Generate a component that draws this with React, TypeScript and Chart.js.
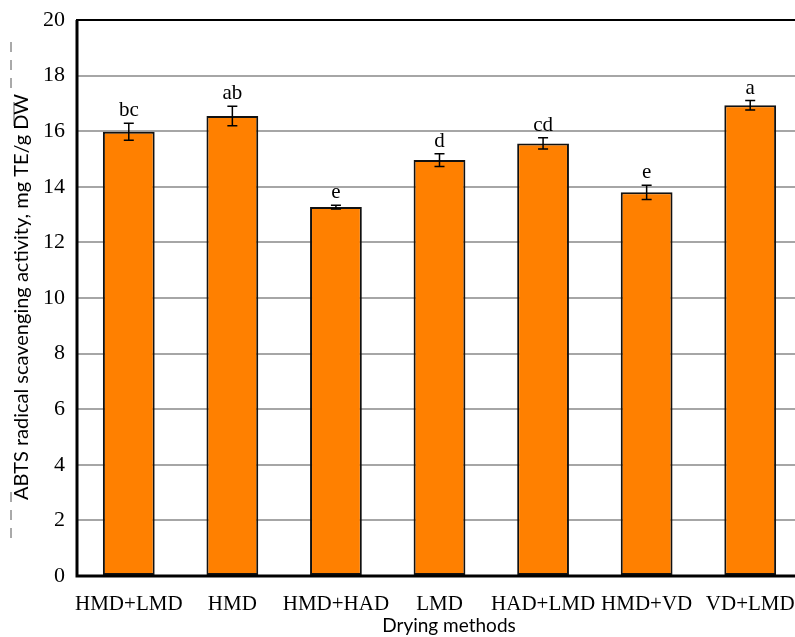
import React, { useEffect, useRef } from "react";
import { Chart, registerables } from "chart.js";

Chart.register(...registerables);

const categories = ["HMD+LMD", "HMD", "HMD+HAD", "LMD", "HAD+LMD", "HMD+VD", "VD+LMD"];
const values = [15.98, 16.55, 13.27, 14.96, 15.56, 13.8, 16.93];
const errors = [0.31, 0.35, 0.07, 0.23, 0.2, 0.26, 0.17];
const letters = ["bc", "ab", "e", "d", "cd", "e", "a"];
const yTicks = [0, 2, 4, 6, 8, 10, 12, 14, 16, 18, 20];
const xTitle = "Drying methods";
const yTitle = "ABTS radical scavenging activity, mg TE/g DW";

const SERIF = "'Liberation Serif', 'Times New Roman', serif";
const SANS = "Lato, 'Open Sans', sans-serif";

const overlayPlugin = {
  id: "overlay",
  afterDatasetsDraw(chart: any) {
    const ctx = chart.ctx;
    const y = chart.scales.y;
    const meta = chart.getDatasetMeta(0);
    ctx.save();
    ctx.strokeStyle = "#000";
    ctx.lineWidth = 1.5;
    meta.data.forEach((bar: any, i: number) => {
      const x = bar.x;
      const yTop = y.getPixelForValue(values[i] + errors[i]);
      const yBot = y.getPixelForValue(values[i] - errors[i]);
      ctx.beginPath();
      ctx.moveTo(x, yTop);
      ctx.lineTo(x, yBot);
      ctx.moveTo(x - 5, yTop);
      ctx.lineTo(x + 5, yTop);
      ctx.moveTo(x - 5, yBot);
      ctx.lineTo(x + 5, yBot);
      ctx.stroke();
      ctx.fillStyle = "#000";
      ctx.font = `21px ${SERIF}`;
      ctx.textAlign = "center";
      ctx.textBaseline = "alphabetic";
      ctx.fillText(letters[i], x, yTop - 7);
    });
    const a = chart.chartArea;
    ctx.strokeStyle = "#000";
    ctx.lineWidth = 2;
    ctx.strokeRect(a.left, a.top, a.right - a.left, a.bottom - a.top);
    ctx.lineWidth = 3;
    ctx.beginPath();
    ctx.moveTo(a.left, a.top);
    ctx.lineTo(a.left, a.bottom);
    ctx.lineTo(a.right, a.bottom);
    ctx.stroke();
    // dashed artifacts beside y title
    ctx.strokeStyle = "#555";
    ctx.lineWidth = 1;
    ctx.setLineDash([10, 8]);
    ctx.beginPath();
    ctx.moveTo(11, 42);
    ctx.lineTo(11, 92);
    ctx.moveTo(11, 492);
    ctx.lineTo(11, 546);
    ctx.stroke();
    ctx.setLineDash([]);
    ctx.beginPath();
    ctx.moveTo(14, 102);
    ctx.lineTo(14, 126);
    ctx.stroke();
    // titles
    ctx.fillStyle = "#000";
    ctx.textAlign = "center";
    ctx.textBaseline = "middle";
    ctx.font = `19px ${SANS}`;
    ctx.fillText(xTitle, 449, 626);
    ctx.font = `20px ${SANS}`;
    ctx.translate(22, 297);
    ctx.rotate(-Math.PI / 2);
    ctx.fillText(yTitle, 0, 0);
    ctx.restore();
  },
};

export default function App() {
  const ref = useRef<HTMLCanvasElement>(null);
  useEffect(() => {
    document.body.style.margin = "0";
    document.body.style.overflow = "hidden";
    const chart = new Chart(ref.current!, {
      type: "bar",
      data: {
        labels: categories,
        datasets: [
          {
            data: values,
            backgroundColor: "#FF8000",
            borderColor: "#111",
            borderWidth: 2,
            borderSkipped: false,
            barPercentage: 0.5,
            categoryPercentage: 1,
          },
        ],
      },
      options: {
        responsive: false,
        animation: false,
        devicePixelRatio: 1,
        layout: { padding: { top: 20, right: 1, left: 0, bottom: 0 } },
        plugins: { legend: { display: false }, tooltip: { enabled: false } },
        scales: {
          x: {
            grid: { display: false },
            border: { display: false },
            ticks: { color: "#000", font: { family: SERIF, size: 21 }, padding: 8, maxRotation: 0, autoSkip: false },
            afterFit: (s: any) => {
              s.height = 61;
              s.paddingLeft = 0;
              s.paddingRight = 0;
            },
          },
          y: {
            min: 0,
            max: 20,
            afterBuildTicks: (s: any) => {
              s.ticks = yTicks.map((v) => ({ value: v }));
            },
            grid: { color: "#a6a6a6", lineWidth: 2, drawTicks: false },
            border: { display: false },
            ticks: { color: "#000", font: { family: SERIF, size: 22 }, padding: 12 },
            afterFit: (s: any) => {
              s.width = 77;
              s.paddingTop = 0;
              s.paddingBottom = 0;
            },
          },
        },
      },
      plugins: [overlayPlugin],
    });
    return () => chart.destroy();
  }, []);
  return (
    <div style={{ position: "fixed", left: 0, top: 0, width: 795, height: 637, overflow: "hidden", background: "#fff" }}>
      <canvas ref={ref} width={803} height={637} style={{ width: 803, height: 637, display: "block" }} />
    </div>
  );
}
